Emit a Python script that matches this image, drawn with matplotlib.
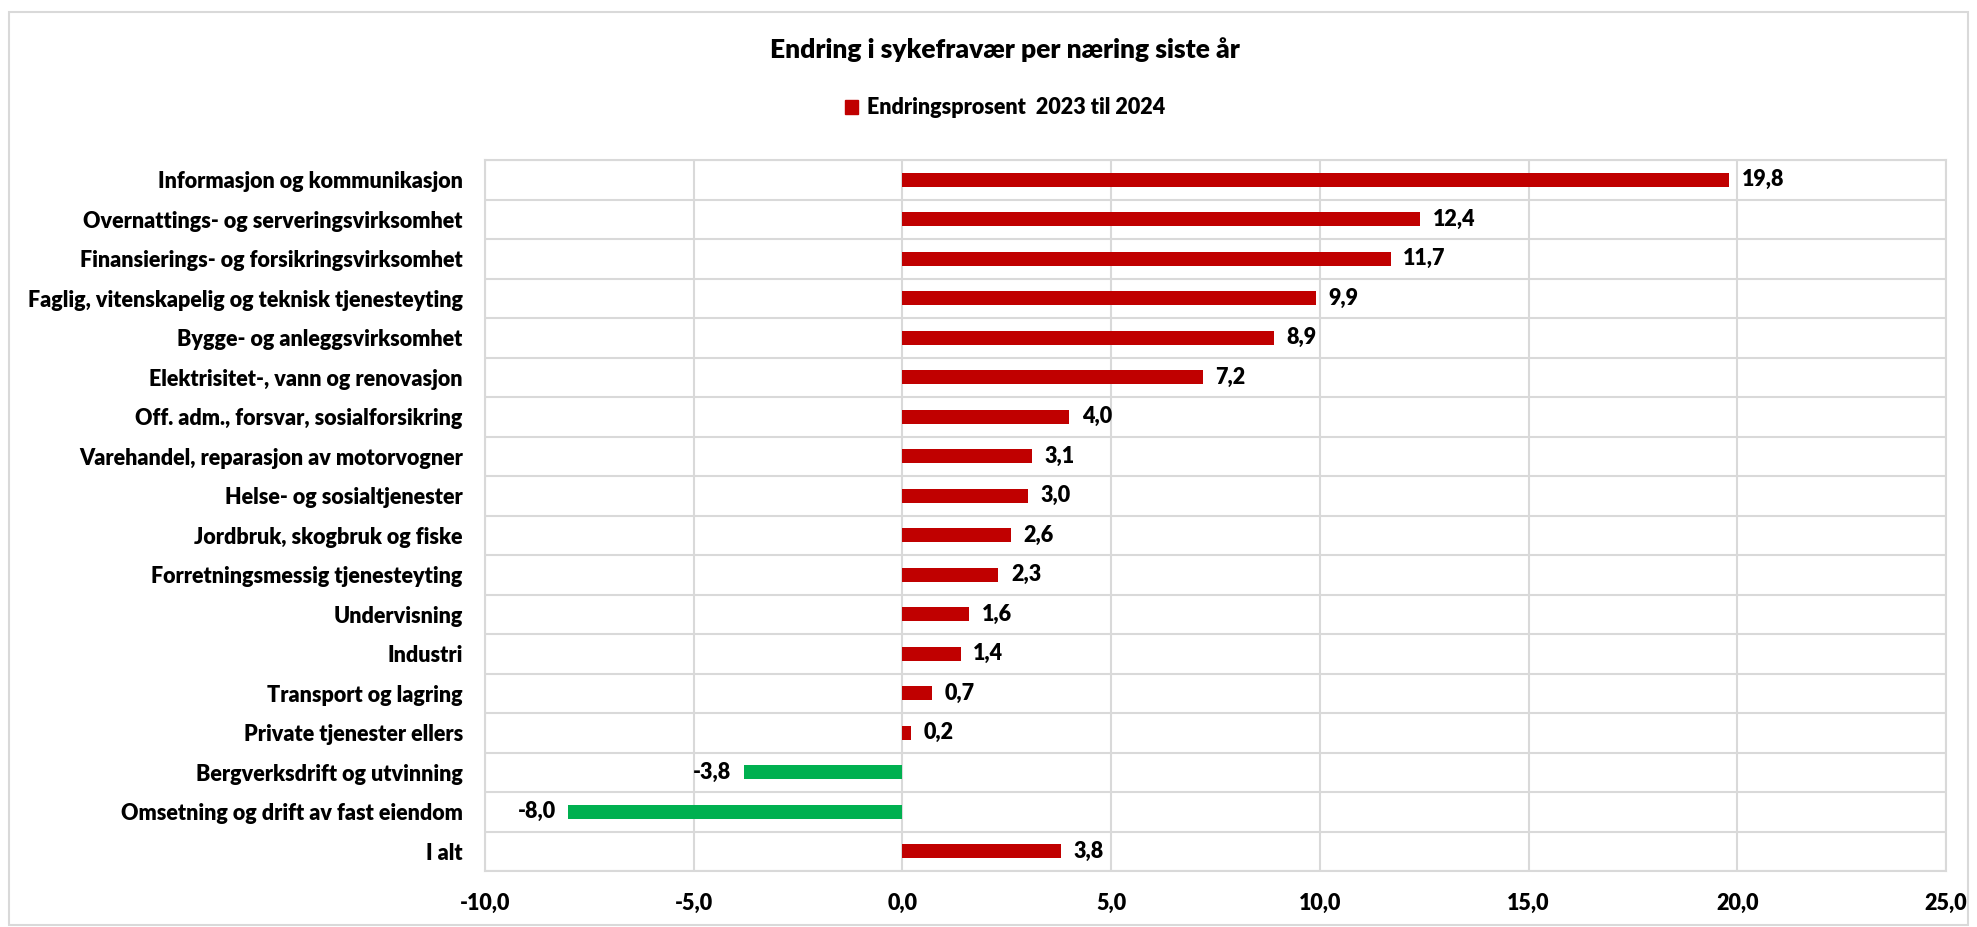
import matplotlib
matplotlib.use("Agg")
import matplotlib.pyplot as plt
from matplotlib.patches import Rectangle, Patch
from matplotlib.font_manager import FontProperties
import numpy as np

categories = [
    "Informasjon og kommunikasjon",
    "Overnattings- og serveringsvirksomhet",
    "Finansierings- og forsikringsvirksomhet",
    "Faglig, vitenskapelig og teknisk tjenesteyting",
    "Bygge- og anleggsvirksomhet",
    "Elektrisitet-, vann og renovasjon",
    "Off. adm., forsvar, sosialforsikring",
    "Varehandel, reparasjon av motorvogner",
    "Helse- og sosialtjenester",
    "Jordbruk, skogbruk og fiske",
    "Forretningsmessig tjenesteyting",
    "Undervisning",
    "Industri",
    "Transport og lagring",
    "Private tjenester ellers",
    "Bergverksdrift og utvinning",
    "Omsetning og drift av fast eiendom",
    "I alt",
]
values = [19.8, 12.4, 11.7, 9.9, 8.9, 7.2, 4.0, 3.1, 3.0, 2.6, 2.3, 1.6, 1.4, 0.7, 0.2, -3.8, -8.0, 3.8]
xticks = [-10, -5, 0, 5, 10, 15, 20, 25]
title = "Endring i sykefravær per næring siste år"
series_name = "Endringsprosent  2023 til 2024"

RED = "#C00000"
GREEN = "#00B050"
GRID = "#D9D9D9"
FAM = ["Lato", "DejaVu Sans"]
WT = "heavy"
FS = 15.5

W, H = 1977, 927
fig = plt.figure(figsize=(W / 100, H / 100), dpi=100)
fig.patch.set_facecolor("white")

# outer chart border
fig.patches.append(Rectangle((9 / W, 2 / H), (W - 18) / W, (H - 14) / H,
                             transform=fig.transFigure, fill=False,
                             edgecolor=GRID, linewidth=1.5))

left, right, top, bottom = 485, 1946, 160, 871
ax = fig.add_axes([left / W, 1 - bottom / H, (right - left) / W, (bottom - top) / H])

n = len(categories)
y = np.arange(n)
colors = [GREEN if v < 0 else RED for v in values]
ax.barh(y, values, height=0.36, color=colors, zorder=3)
ax.set_ylim(n - 0.5, -0.5)
ax.set_xlim(xticks[0], xticks[-1])

ax.set_xticks(xticks)
ax.set_xticklabels([f"{t:.1f}".replace(".", ",") for t in xticks])
ax.set_yticks(y)
ax.set_yticklabels(categories)
for lab in ax.get_xticklabels() + ax.get_yticklabels():
    lab.set_fontfamily(FAM)
    lab.set_fontweight(WT)
    lab.set_fontsize(FS)
    lab.set_color("black")
ax.tick_params(axis="both", length=0)
ax.tick_params(axis="x", pad=16)
ax.tick_params(axis="y", pad=16)

# grid
ax.set_yticks(np.arange(-0.5, n, 1), minor=True)
ax.grid(True, axis="x", which="major", color=GRID, linewidth=1.5, zorder=0)
ax.grid(True, axis="y", which="minor", color=GRID, linewidth=1.5, zorder=0)
ax.grid(False, axis="y", which="major")
ax.tick_params(axis="y", which="minor", length=0)
for s in ax.spines.values():
    s.set_color(GRID)
    s.set_linewidth(1.5)

# data labels
for yi, v in zip(y, values):
    txt = f"{v:.1f}".replace(".", ",")
    if v >= 0:
        ax.annotate(txt, (v, yi), xytext=(9, 0), textcoords="offset points",
                    ha="left", va="center", fontsize=FS, fontweight=WT,
                    fontfamily=FAM, zorder=4)
    else:
        ax.annotate(txt, (v, yi), xytext=(-9, 0), textcoords="offset points",
                    ha="right", va="center", fontsize=FS, fontweight=WT,
                    fontfamily=FAM, zorder=4)

fig.text(1005 / W, 1 - 50 / H, title, ha="center", va="center",
         fontsize=19, fontweight=WT, fontfamily=FAM)

# legend
leg = fig.legend(handles=[Patch(color=RED, label=series_name)],
                 loc="center", bbox_to_anchor=(1005 / W, 1 - 108 / H),
                 frameon=False, handlelength=0.6, handleheight=0.6,
                 handletextpad=0.4,
                 prop=FontProperties(family=FAM, weight=WT, size=FS))

fig.savefig("out.png", dpi=100, facecolor="white")
